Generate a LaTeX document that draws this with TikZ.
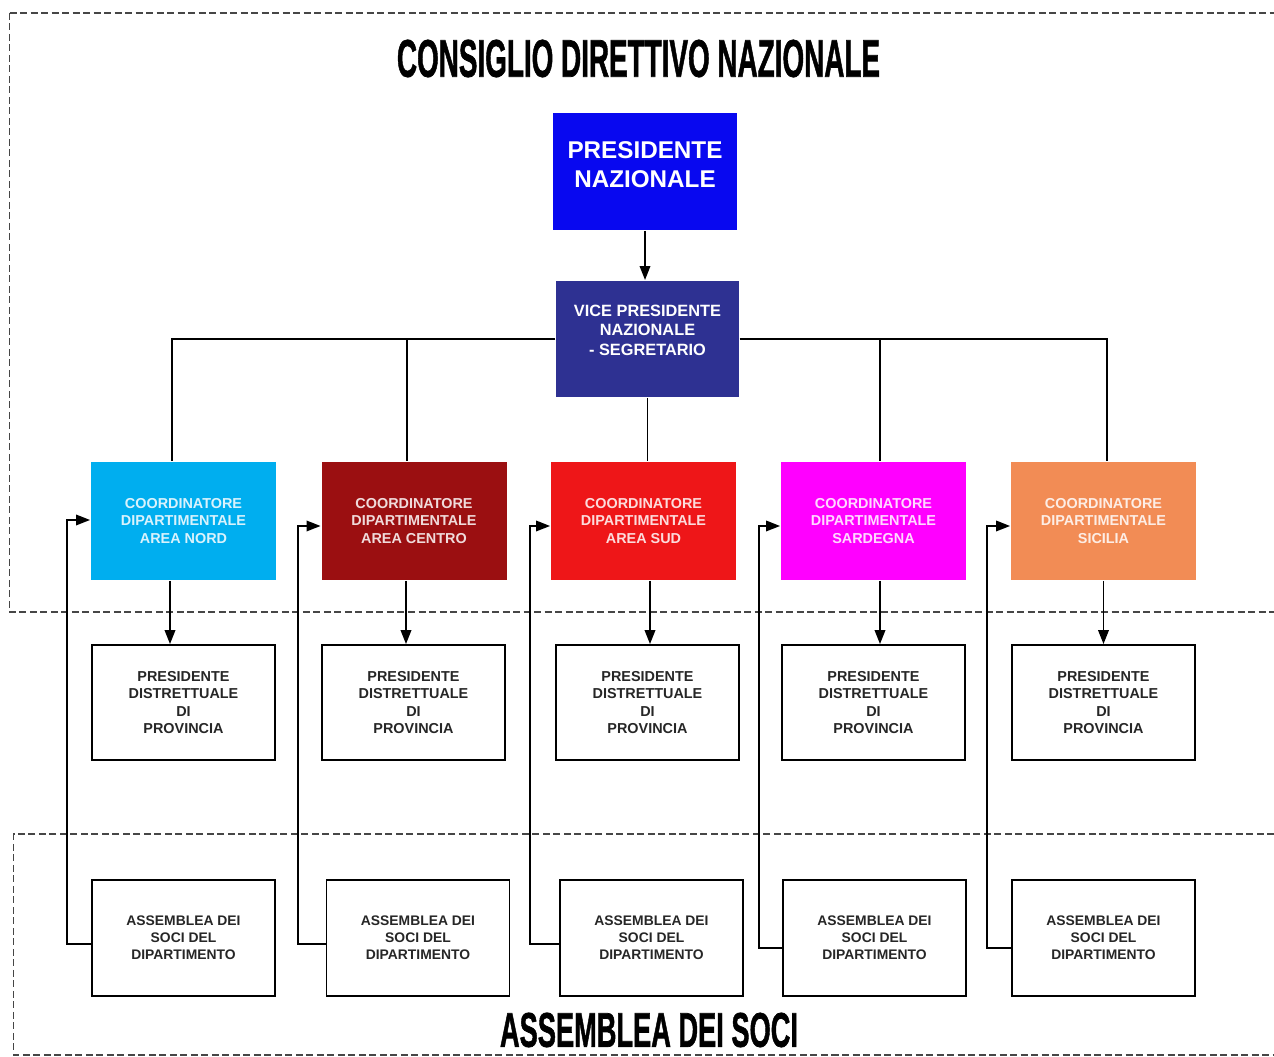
\documentclass[tikz,border=0pt]{standalone}
\usepackage{fontspec}
\setmainfont{Liberation Sans}
\newfontfamily\titlefont[FakeBold=1.5]{Liberation Sans}
\usepackage{graphicx}
\usetikzlibrary{arrows.meta}

\definecolor{presblu}{RGB}{8,8,240}
\definecolor{viceblu}{RGB}{46,49,146}
\definecolor{nord}{RGB}{0,174,239}
\definecolor{centro}{RGB}{155,15,17}
\definecolor{sud}{RGB}{238,22,24}
\definecolor{sardegna}{RGB}{255,0,255}
\definecolor{sicilia}{RGB}{242,140,85}
\definecolor{tratteggio}{RGB}{70,70,70}

\begin{document}
\begin{tikzpicture}[
    line width=1.1pt, >={Triangle[length=2.8mm,width=2.1mm]},
    cornice/.style={line width=0.6pt, draw=tratteggio, dash pattern=on 1.4mm off 0.7mm},
    capo/.style={minimum width=3.68cm, minimum height=2.34cm, align=center, text=white,
        text depth=0.27cm, font=\bfseries\fontsize{13.8}{16.5}\selectfont},
    vice/.style={minimum width=3.66cm, minimum height=2.32cm, align=center, text=white,
        text depth=0.35cm, font=\bfseries\fontsize{9.3}{11}\selectfont},
    coord/.style={minimum width=3.7cm, minimum height=2.36cm, align=center, text=white,
        text opacity=0.85, font=\bfseries\fontsize{8.2}{10}\selectfont},
    distr/.style={draw, line width=1pt, minimum width=3.66cm, minimum height=2.3cm, align=center,
        text=black!85, font=\bfseries\fontsize{8.2}{9.9}\selectfont},
    soci/.style={draw, line width=1pt, minimum width=3.66cm, minimum height=2.32cm, align=center,
        text=black!85, font=\bfseries\fontsize{7.9}{9.6}\selectfont}
]
    \useasboundingbox (0,0) rectangle (25.48,-21.14);

    % Cadres en pointillés
    \draw[cornice] (0.19,-0.26) -- (25.48,-0.26);
    \draw[cornice] (0.19,-0.26) -- (0.19,-12.24) -- (25.48,-12.24);
    \draw[cornice] (25.48,-16.68) -- (0.27,-16.68) -- (0.27,-21.1) -- (25.48,-21.1);

    % Titres
    \node (T1) at (12.77,-1.17) {\resizebox{9.66cm}{0.74cm}{\titlefont\bfseries CONSIGLIO DIRETTIVO NAZIONALE}};
    \node (T2) at (12.98,-20.6) {\resizebox{5.96cm}{0.68cm}{\titlefont\bfseries ASSEMBLEA DEI SOCI}};

    % Presidenza
    \node[capo, fill=presblu] (P) at (12.9,-3.43) {PRESIDENTE\\NAZIONALE};
    \node[vice, fill=viceblu] (V) at (12.95,-6.78) {VICE PRESIDENTE\\NAZIONALE\\- SEGRETARIO};

    % Coordinateurs
    \node[coord, fill=nord] (C1) at (3.67,-10.42) {COORDINATORE\\DIPARTIMENTALE\\AREA NORD};
    \node[coord, fill=centro] (C2) at (8.28,-10.42) {COORDINATORE\\DIPARTIMENTALE\\AREA CENTRO};
    \node[coord, fill=sud] (C3) at (12.87,-10.42) {COORDINATORE\\DIPARTIMENTALE\\AREA SUD};
    \node[coord, fill=sardegna] (C4) at (17.47,-10.42) {COORDINATORE\\DIPARTIMENTALE\\SARDEGNA};
    \node[coord, fill=sicilia] (C5) at (22.07,-10.42) {COORDINATORE\\DIPARTIMENTALE\\SICILIA};

    % Presidents de district
    \node[distr] (D1) at (3.67,-14.05) {PRESIDENTE\\DISTRETTUALE\\DI\\PROVINCIA};
    \node[distr] (D2) at (8.27,-14.05) {PRESIDENTE\\DISTRETTUALE\\DI\\PROVINCIA};
    \node[distr] (D3) at (12.95,-14.05) {PRESIDENTE\\DISTRETTUALE\\DI\\PROVINCIA};
    \node[distr] (D4) at (17.47,-14.05) {PRESIDENTE\\DISTRETTUALE\\DI\\PROVINCIA};
    \node[distr] (D5) at (22.07,-14.05) {PRESIDENTE\\DISTRETTUALE\\DI\\PROVINCIA};

    % Assemblees
    \node[soci] (S1) at (3.67,-18.76) {ASSEMBLEA DEI\\SOCI DEL\\DIPARTIMENTO};
    \node[soci] (S2) at (8.36,-18.76) {ASSEMBLEA DEI\\SOCI DEL\\DIPARTIMENTO};
    \node[soci] (S3) at (13.03,-18.76) {ASSEMBLEA DEI\\SOCI DEL\\DIPARTIMENTO};
    \node[soci] (S4) at (17.49,-18.76) {ASSEMBLEA DEI\\SOCI DEL\\DIPARTIMENTO};
    \node[soci] (S5) at (22.07,-18.76) {ASSEMBLEA DEI\\SOCI DEL\\DIPARTIMENTO};

    % Liaisons du haut
    \draw[->] (P.south) -- (P.south |- V.north);
    \draw (V.west) -| ([xshift=-2.3mm]C1.north);
    \draw (V.west) -| ([xshift=-1.4mm]C2.north);
    \draw (V.south) -- (V.south |- C3.north);
    \draw (V.east) -| ([xshift=1.3mm]C4.north);
    \draw (V.east) -| ([xshift=0.7mm]C5.north);

    % Fleches vers les presidents de district
    \draw[->] ([xshift=-2.7mm]C1.south) -- ([xshift=-2.7mm]C1.south |- D1.north);
    \draw[->] ([xshift=-1.6mm]C2.south) -- ([xshift=-1.6mm]C2.south |- D2.north);
    \draw[->] ([xshift=1.3mm]C3.south) -- ([xshift=1.3mm]C3.south |- D3.north);
    \draw[->] ([xshift=1.3mm]C4.south) -- ([xshift=1.3mm]C4.south |- D4.north);
    \draw[->] (C5.south) -- (C5.south |- D5.north);

    % Retours des assemblees
    \coordinate (R1) at (1.34,-10.4);
    \coordinate (R2) at (5.96,-10.52);
    \coordinate (R3) at (10.6,-10.52);
    \coordinate (R4) at (15.18,-10.52);
    \coordinate (R5) at (19.74,-10.52);
    \draw[->] ([yshift=-1.2mm]S1.west) -| (R1) -- (R1 -| C1.west);
    \draw[->] ([yshift=-1.2mm]S2.west) -| (R2) -- (R2 -| C2.west);
    \draw[->] ([yshift=-1.2mm]S3.west) -| (R3) -- (R3 -| C3.west);
    \draw[->] ([yshift=-2mm]S4.west) -| (R4) -- (R4 -| C4.west);
    \draw[->] ([yshift=-2mm]S5.west) -| (R5) -- (R5 -| C5.west);
\end{tikzpicture}
\end{document}
